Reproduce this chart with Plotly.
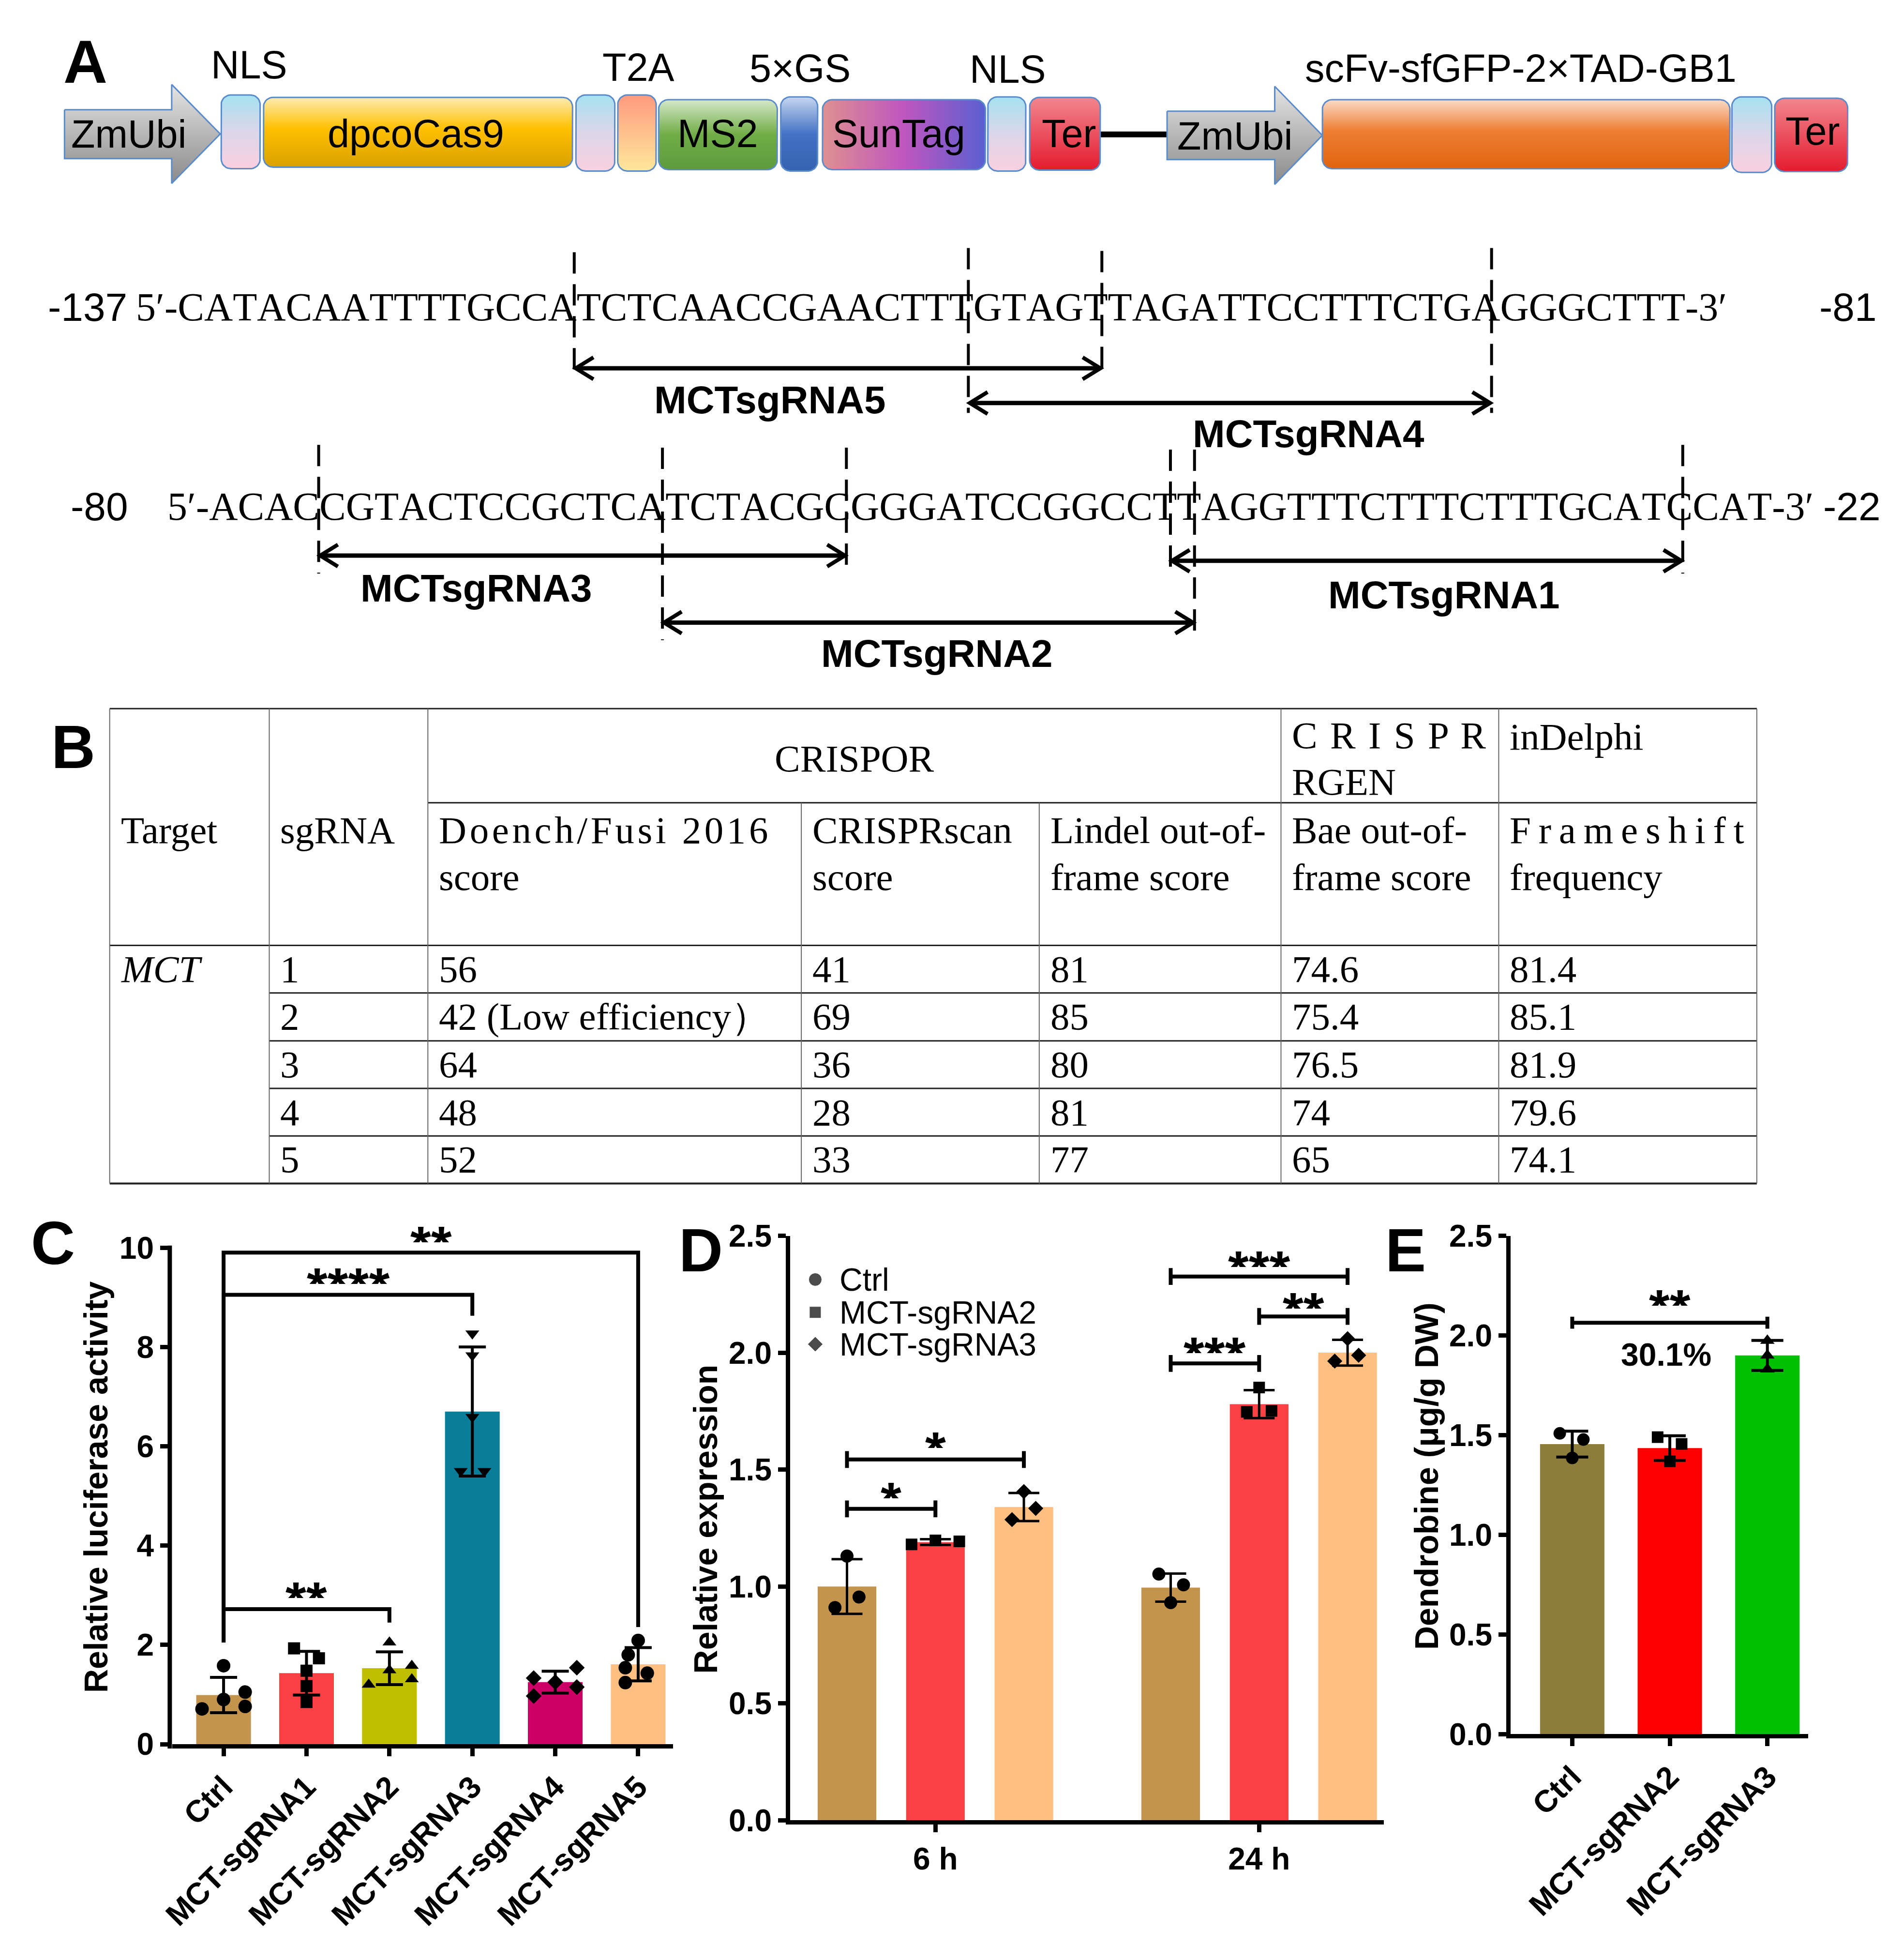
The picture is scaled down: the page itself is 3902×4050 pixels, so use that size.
import plotly.graph_objects as go
import numpy as np

W, H = 3902, 4050
SANS = "Liberation Sans"
SERIF = "Liberation Serif"

# ------------------------------------------------------------------ data
# Panel A : construct + promoter sequences
CONSTRUCT_TOP = ["NLS", "T2A", "5×GS", "NLS", "scFv-sfGFP-2×TAD-GB1"]
SEQ1 = "CATACAATTTTGCCATCTCAACCGAACTTTGTAGTTAGATTCCTTTCTGAGGGCTTT"
SEQ2 = "ACACCGTACTCCGCTCATCTACGCGGGATCCGGCCTTAGGTTTCTTTCTTTGCATCCAT"
SEQ_LEFT = ["-137", "-80"]
SEQ_RIGHT = ["-81", "-22"]
SGRNA_NAMES = ["MCTsgRNA5", "MCTsgRNA4", "MCTsgRNA3", "MCTsgRNA1", "MCTsgRNA2"]
SGRNA_LINE = [1, 1, 2, 2, 2]
SGRNA_CUT0 = [15, 30, 4, 36, 17]
SGRNA_CUT1 = [35, 50, 24, 56, 37]

# Panel B : table
TAB_SGRNA = ["1", "2", "3", "4", "5"]
TAB_DOENCH = ["56", "42 (Low efficiency）", "64", "48", "52"]
TAB_CRISPRSCAN = ["41", "69", "36", "28", "33"]
TAB_LINDEL = ["81", "85", "80", "81", "77"]
TAB_BAE = ["74.6", "75.4", "76.5", "74", "65"]
TAB_INDELPHI = ["81.4", "85.1", "81.9", "79.6", "74.1"]

# Panel C : luciferase
C_GROUPS = ["Ctrl", "MCT-sgRNA1", "MCT-sgRNA2", "MCT-sgRNA3", "MCT-sgRNA4", "MCT-sgRNA5"]
C_MEAN = [0.99, 1.43, 1.53, 6.70, 1.25, 1.61]
C_SD = [0.355, 0.44, 0.33, 1.30, 0.22, 0.335]
C_POINTS = [[1.58, 0.71, 0.90, 1.05, 0.76],
            [1.93, 1.73, 1.48, 1.17, 0.85],
            [2.05, 1.20, 1.49, 1.58, 1.31],
            [8.27, 7.83, 6.59, 5.50, 5.50],
            [1.33, 0.97, 1.25, 1.54, 1.15],
            [2.09, 1.80, 1.54, 1.43, 1.24]]
C_JITTER = [[0, -0.26, 0, 0.26, 0.26],
            [-0.15, 0.15, 0, 0, 0],
            [0, -0.25, 0, 0.27, 0.27],
            [0, 0, 0, -0.14, 0.145],
            [-0.26, -0.26, 0, 0.26, 0.26],
            [0, -0.12, -0.155, 0.11, -0.155]]
C_COLORS = ["#C4944C", "#F94144", "#BFBF00", "#0A7E98", "#CC0066", "#FFBF80"]
C_SYMBOLS = ["circle", "square", "triangle-up", "triangle-down", "diamond", "circle"]
C_SIG_FROM = [0, 0, 0]
C_SIG_TO = [5, 3, 2]
C_SIG_TOP = [9.9, 9.05, 2.72]
C_SIG_RIGHT_END = [2.36, 8.63, 2.45]
C_SIG_LEFT_END = 2.05
C_SIG_TEXT = ["**", "****", "**"]
C_SIG_TEXT_Y = [10.31, 9.47, 3.14]

# Panel D : relative expression
D_TIMES = ["6 h", "24 h"]
D_SERIES = ["Ctrl", "MCT-sgRNA2", "MCT-sgRNA3"]
D_MEAN = [[1.00, 1.19, 1.34], [0.995, 1.78, 2.00]]
D_SD = [[0.117, 0.012, 0.06], [0.06, 0.06, 0.055]]
D_POINTS = [[[1.13, 0.91, 0.955], [1.18, 1.197, 1.193], [1.406, 1.286, 1.334]],
            [[1.053, 1.007, 0.931], [1.851, 1.747, 1.751], [2.06, 1.964, 1.989]]]
D_JITTER = [[[0, -0.136, 0.136], [-0.27, 0, 0.27], [0, -0.134, 0.134]],
            [[-0.134, 0.145, 0], [0, -0.14, 0.14], [0, -0.145, 0.125]]]
D_COLORS = ["#C4944C", "#F94144", "#FFBF80"]
D_SYMBOLS = ["circle", "square", "diamond"]
D_SIG = [  # (time, series_a, series_b, bar_y, text, text_y)
    (0, 0, 1, 1.332, "*", 1.42),
    (0, 0, 2, 1.543, "*", 1.634),
    (1, 0, 1, 1.954, "***", 2.04),
    (1, 1, 2, 2.155, "**", 2.23),
    (1, 0, 2, 2.326, "***", 2.41),
]

# Panel E : dendrobine
E_GROUPS = ["Ctrl", "MCT-sgRNA2", "MCT-sgRNA3"]
E_MEAN = [1.455, 1.435, 1.90]
E_SD = [0.065, 0.062, 0.075]
E_POINTS = [[1.509, 1.478, 1.386], [1.49, 1.456, 1.369], [1.974, 1.90, 1.83]]
E_JITTER = [[-0.128, 0.114, 0], [-0.125, 0.121, 0], [0, 0, 0]]
E_COLORS = ["#8C7E3A", "#FF0000", "#00C000"]
E_SYMBOLS = ["circle", "square", "triangle-up"]
E_SIG_Y, E_SIG_TEXT, E_SIG_TEXT_Y = 2.064, "**", 2.20
E_PCT_TEXT, E_PCT_X, E_PCT_Y = "30.1%", 0.963, 1.905

# ------------------------------------------------------------------ helpers
fig = go.Figure()
shapes, annots = [], []
NOKERN = '<span style="font-kerning:none">{}</span>'


def px_line(x0, y0, x1, y1, w, color="black", dash=None, layer="above"):
    d = dict(type="line", xref="x4", yref="y4", x0=x0, y0=y0, x1=x1, y1=y1,
             line=dict(color=color, width=w), layer=layer)
    if dash:
        d["line"]["dash"] = dash
    shapes.append(d)


def px_path(p, w, color="black"):
    shapes.append(dict(type="path", xref="x4", yref="y4", path=p,
                       line=dict(color=color, width=w)))


def px_text(x, y, s, size, family=SANS, weight="normal", xanchor="center",
            yanchor="middle", angle=0, style="normal", pad=1):
    annots.append(dict(xref="x4", yref="y4", x=x, y=y, text=s, showarrow=False,
                       font=dict(family=family, size=size, color="black",
                                 weight=weight, style=style),
                       xanchor=xanchor, yanchor=yanchor, textangle=angle,
                       borderpad=pad, borderwidth=0))


def rounded(x0, x1, y0, y1, r, n=10):
    xs, ys = [], []
    for cx, cy, a0, a1 in [(x1 - r, y0 + r, -90, 0), (x1 - r, y1 - r, 0, 90),
                           (x0 + r, y1 - r, 90, 180), (x0 + r, y0 + r, 180, 270)]:
        t = np.radians(np.linspace(a0, a1, n))
        xs += list(cx + r * np.cos(t))
        ys += list(cy + r * np.sin(t))
    xs.append(xs[0]); ys.append(ys[0])
    return xs, ys


def grad_poly(xs, ys, cs, gtype="vertical"):
    if gtype == "vertical":  # colorscale is given top -> bottom; axis is reversed
        cs = [[1 - s, c] for s, c in reversed(cs)]
    fig.add_trace(go.Scatter(x=xs, y=ys, mode="lines", fill="toself",
                             line=dict(color="#5A8BCB", width=3),
                             fillgradient=dict(type=gtype, colorscale=cs),
                             hoverinfo="skip", xaxis="x4", yaxis="y4"))


# ------------------------------------------------------------------ Panel A: construct
NLS_CS = [[0, "#A6E1F0"], [0.5, "#DCD6EA"], [1, "#FAD0DF"]]
TER_CS = [[0, "#F2868E"], [1, "#E41B2F"]]
GREY_CS = [[0, "#E4E4E4"], [1, "#8A8A8A"]]

px_line(2255, 238, 2394, 238, 12, layer="below")

for (xa, xb, xt, top, bot, tip_y, btop, bbot) in [(100, 323, 424, 133, 341, 237, 186, 289),
                                                   (2394, 2618, 2717, 137, 343, 240, 189, 291)]:
    xs = [xa, xb, xb, xt, xb, xb, xa, xa]
    ys = [btop, btop, top, tip_y, bot, bbot, bbot, btop]
    grad_poly(xs, ys, GREY_CS)

BOXES = [  # x0, x1, y0, y1, colorscale (top -> bottom / left -> right), gradient type
    (426, 507, 155, 310, NLS_CS, "vertical"),
    (514, 1157, 160, 307, [[0, "#FFEBB0"], [0.45, "#FFC000"], [1, "#D9A100"]], "vertical"),
    (1164, 1245, 155, 315, NLS_CS, "vertical"),
    (1251, 1331, 155, 315, [[0, "#FF9A7E"], [1, "#FFE79C"]], "vertical"),
    (1336, 1583, 165, 312, [[0, "#D5E8C8"], [0.5, "#70AD47"], [1, "#5E9A3C"]], "vertical"),
    (1590, 1667, 159, 315, [[0, "#C6D6F0"], [0.5, "#4472C4"], [1, "#3463B0"]], "vertical"),
    (1677, 2016, 165, 312, [[0, "#DE9090"], [0.5, "#BF56BF"], [1, "#5A5FD0"]], "horizontal"),
    (2021, 2100, 159, 315, NLS_CS, "vertical"),
    (2108, 2255, 160, 313, TER_CS, "vertical"),
    (2717, 3565, 165, 310, [[0, "#FADBC6"], [0.45, "#EE7E33"], [1, "#E0640F"]], "vertical"),
    (3569, 3652, 159, 318, NLS_CS, "vertical"),
    (3658, 3810, 162, 316, TER_CS, "vertical"),
]
for x0, x1, y0, y1, cs, gt in BOXES:
    r = min(20, (x1 - x0) / 2.5)
    xs, ys = rounded(x0, x1, y0, y1, r)
    grad_poly(xs, ys, cs, gt)

FS_A = 81
px_text(234, 237, "ZmUbi", FS_A)
px_text(831, 236, "dpcoCas9", FS_A)
px_text(1459, 236, "MS2", FS_A)
px_text(1836, 236, "SunTag", FS_A)
px_text(2190, 236, "Ter", FS_A)
px_text(2535, 241, "ZmUbi", FS_A)
px_text(3737, 231, "Ter", FS_A)
for s, x, y in zip(CONSTRUCT_TOP, [484, 1294, 1630, 2063, 3130], [92, 97, 99, 101, 99]):
    px_text(x, y, s, FS_A)

# panel letters
for s, x, y in [("A", 143, 85), ("B", 118, 1527), ("C", 76, 2570), ("D", 1424, 2585), ("E", 2890, 2585)]:
    px_text(x, y, s, 126, weight="bold")

# ------------------------------------------------------------------ Panel A: sequences
TW = {"A": 0.722, "C": 0.667, "G": 0.722, "T": 0.611}
FS_SEQ = 82
PREFIX_W = 87          # rendered width of the "5′-" prefix
SEQS = {1: (SEQ1, 336, 601), 2: (SEQ2, 401, 1021)}


def cut_x(line, k):
    seq, x0, _ = SEQS[line]
    return x0 + FS_SEQ * sum(TW[c] for c in seq[:k])


for line, (seq, x0, y) in SEQS.items():
    px_text(x0 - PREFIX_W, y, NOKERN.format("5′-" + seq + "-3′"), FS_SEQ, family=SERIF,
            xanchor="left", pad=0)
px_text(64, 601, SEQ_LEFT[0], FS_SEQ, xanchor="left")
px_text(112, 1021, SEQ_LEFT[1], FS_SEQ, xanchor="left")
px_text(3872, 601, SEQ_RIGHT[0], FS_SEQ, xanchor="right")
px_text(3880, 1021, SEQ_RIGHT[1], FS_SEQ, xanchor="right")

# dashed cut lines: (line, cut index, y top, y bottom)
DASHES = [(1, 15, 486, 751), (1, 30, 477, 824), (1, 35, 483, 748), (1, 50, 477, 824),
          (2, 4, 891, 1162), (2, 17, 897, 1302), (2, 24, 897, 1149), (2, 36, 901, 1156),
          (2, 37, 901, 1296), (2, 56, 891, 1162)]
for line, k, ya, yb in DASHES:
    x = cut_x(line, k)
    px_line(x, ya, x, yb, 6, dash="44px,22px")

ARROW_Y = [730, 803, 1124, 1135, 1265]
LABEL_XY = [(1568, 797), (2688, 868), (957, 1193), (2970, 1207), (1915, 1330)]
for name, line, k0, k1, ay, (lx, ly) in zip(SGRNA_NAMES, SGRNA_LINE, SGRNA_CUT0, SGRNA_CUT1,
                                           ARROW_Y, LABEL_XY):
    xa, xb = cut_x(line, k0), cut_x(line, k1)
    px_line(xa + 4, ay, xb - 4, ay, 9)
    px_path(f"M {xa + 40},{ay - 23} L {xa + 3},{ay} L {xa + 40},{ay + 23}", 8)
    px_path(f"M {xb - 40},{ay - 23} L {xb - 3},{ay} L {xb - 40},{ay + 23}", 8)
    px_text(lx, ly, name, 80, weight="bold")

# ------------------------------------------------------------------ Panel B: table
COLS = [194, 526, 856, 1633, 2128, 2631, 3084, 3621]
ROWS = [1446, 1644, 1944, 2044, 2145, 2245, 2345, 2445]
px_line(COLS[0], ROWS[0], COLS[-1], ROWS[0], 3, "#222")
px_line(COLS[2], ROWS[1], COLS[-1], ROWS[1], 3, "#222")
px_line(COLS[0], ROWS[2], COLS[-1], ROWS[2], 3, "#222")
for r in ROWS[3:7]:
    px_line(COLS[1], r, COLS[-1], r, 3, "#222")
px_line(COLS[0], ROWS[7], COLS[-1], ROWS[7], 4, "#222")
for i, c in enumerate(COLS):
    ytop = ROWS[1] if i in (3, 4) else ROWS[0]
    px_line(c, ytop, c, ROWS[7], 2, "#666")

FT = 79
HAIR, THIN = "\u200a", "\u2009"
PAD = 22
px_text(COLS[0] + PAD, 1702, "Target", FT, SERIF, xanchor="left")
px_text(COLS[1] + PAD, 1702, "sgRNA", FT, SERIF, xanchor="left")
px_text((COLS[2] + COLS[5]) / 2, 1551, "CRISPOR", FT, SERIF)
px_text(COLS[5] + PAD, 1502, (" " + HAIR).join("CRISPR"), FT, SERIF, xanchor="left")
px_text(COLS[5] + PAD, 1600, "RGEN", FT, SERIF, xanchor="left")
px_text(COLS[6] + PAD, 1505, "inDelphi", FT, SERIF, xanchor="left")
SUBHEAD = [(HAIR.join("Doench/Fusi 2016"), "score"), ("CRISPRscan", "score"),
           ("Lindel out-of-", "frame score"), ("Bae out-of-", "frame score"),
           (THIN.join("Frameshift"), "frequency")]
for (l1, l2), c in zip(SUBHEAD, COLS[2:7]):
    px_text(c + PAD, 1702, l1, FT, SERIF, xanchor="left")
    px_text(c + PAD, 1800, l2, FT, SERIF, xanchor="left")
ROW_Y = [1994, 2094, 2195, 2295, 2394]
px_text(COLS[0] + PAD, ROW_Y[0], "MCT", FT, SERIF, xanchor="left", style="italic")
for j, col in enumerate([TAB_SGRNA, TAB_DOENCH, TAB_CRISPRSCAN, TAB_LINDEL, TAB_BAE, TAB_INDELPHI]):
    for v, y in zip(col, ROW_Y):
        px_text(COLS[j + 1] + PAD, y, v, FT, SERIF, xanchor="left")

# ------------------------------------------------------------------ common chart styling
TICKFONT = dict(family=SANS, size=64, color="black", weight="bold")
STAR = 110


def star(xref, yref, x, y, s):
    # compact box around the asterisk glyphs (they sit high in the em box)
    annots.append(dict(xref=xref, yref=yref, x=x, y=y, text=s, showarrow=False,
                       font=dict(family=SANS, size=STAR, color="black", weight="bold"),
                       xanchor="center", yanchor="top", valign="top",
                       height=round(0.52 * STAR), borderpad=0, borderwidth=0,
                       yshift=0.332 * STAR))


def ax_x(dom_px, rng, tickvals, ticktext, angle=0):
    return dict(domain=[dom_px[0] / W, dom_px[1] / W], range=rng, showline=True, linewidth=9,
                linecolor="black", ticks="outside", ticklen=16, tickwidth=9, tickcolor="black",
                tickvals=tickvals, ticktext=ticktext, tickangle=angle, tickfont=TICKFONT,
                showgrid=False, zeroline=False, fixedrange=True)


def ax_y(dom_px, rng, tickvals, ticktext, showline=True, ticklen=16):
    return dict(domain=[1 - dom_px[1] / H, 1 - dom_px[0] / H], range=rng, showline=showline,
                linewidth=9 if showline else 1, linecolor="black", ticks="outside",
                ticklen=ticklen, tickwidth=9, tickcolor="black", tickvals=tickvals,
                ticktext=ticktext, tickfont=TICKFONT, showgrid=False, zeroline=False,
                fixedrange=True)


# ------------------------------------------------------------------ Panel C
nC = len(C_GROUPS)
fig.add_trace(go.Bar(x=list(range(nC)), y=C_MEAN, width=0.66, marker=dict(color=C_COLORS, line=dict(width=0)),
                     error_y=dict(type="data", array=C_SD, visible=True, color="black", thickness=6, width=28),
                     xaxis="x", yaxis="y", hoverinfo="skip"))
for i in range(nC):
    fig.add_trace(go.Scatter(x=[i + j for j in C_JITTER[i]], y=C_POINTS[i], mode="markers",
                             marker=dict(symbol=C_SYMBOLS[i], size=28 if C_SYMBOLS[i] == "circle" else 25,
                                         color="black", line=dict(width=0)),
                             xaxis="x", yaxis="y", hoverinfo="skip", cliponaxis=False))
for a, b, top, rend, s, ty in zip(C_SIG_FROM, C_SIG_TO, C_SIG_TOP, C_SIG_RIGHT_END, C_SIG_TEXT, C_SIG_TEXT_Y):
    shapes.append(dict(type="path", xref="x", yref="y",
                       path=f"M {a},{C_SIG_LEFT_END} L {a},{top} L {b},{top} L {b},{rend}",
                       line=dict(color="black", width=8)))
    star("x", "y", (a + b) / 2, ty, s)
# C y axis line (drawn so that it stops at the top tick)
px_line(319, 2575.5, 319, 3633.5, 9)
px_text(165, 3083, "Relative luciferase activity", 68, weight="bold", angle=-90)

# ------------------------------------------------------------------ Panel D
GROUP_STEP = 3.66
fig.add_trace(go.Bar(
    x=[t * GROUP_STEP + s for t in range(2) for s in range(3)],
    y=[D_MEAN[t][s] for t in range(2) for s in range(3)], width=0.663,
    marker=dict(color=D_COLORS * 2, line=dict(width=0)),
    error_y=dict(type="data", array=[D_SD[t][s] for t in range(2) for s in range(3)], visible=True,
                 color="black", thickness=5, width=32),
    xaxis="x2", yaxis="y2", hoverinfo="skip"))
for t in range(2):
    for s in range(3):
        fig.add_trace(go.Scatter(x=[t * GROUP_STEP + s + j for j in D_JITTER[t][s]], y=D_POINTS[t][s],
                                 mode="markers",
                                 marker=dict(symbol=D_SYMBOLS[s], size=27 if s == 0 else 24, color="black",
                                             line=dict(width=0)),
                                 xaxis="x2", yaxis="y2", hoverinfo="skip", cliponaxis=False))
for t, sa, sb, by, s, ty in D_SIG:
    xa, xb = t * GROUP_STEP + sa, t * GROUP_STEP + sb
    shapes.append(dict(type="line", xref="x2", yref="y2", x0=xa, x1=xb, y0=by, y1=by,
                       line=dict(color="black", width=8)))
    for xx in (xa, xb):
        shapes.append(dict(type="line", xref="x2", yref="y2", x0=xx, x1=xx, y0=by - 0.036, y1=by + 0.036,
                           line=dict(color="black", width=8)))
    star("x2", "y2", (xa + xb) / 2, ty, s)
px_text(1434, 3151, "Relative expression", 68, weight="bold", angle=-90)
# legend for D
LEG_Y = [2647, 2716, 2783]
fig.add_trace(go.Scatter(x=[1662] * 3, y=LEG_Y, mode="markers",
                         marker=dict(symbol=D_SYMBOLS, size=[27, 24, 24], color="black"),
                         xaxis="x4", yaxis="y4", hoverinfo="skip"))
for name, y in zip(D_SERIES, LEG_Y):
    px_text(1711, y, name, 66, xanchor="left")

# ------------------------------------------------------------------ Panel E
nE = len(E_GROUPS)
fig.add_trace(go.Bar(x=list(range(nE)), y=E_MEAN, width=0.66, marker=dict(color=E_COLORS, line=dict(width=0)),
                     error_y=dict(type="data", array=E_SD, visible=True, color="black", thickness=6, width=33),
                     xaxis="x3", yaxis="y3", hoverinfo="skip"))
for i in range(nE):
    fig.add_trace(go.Scatter(x=[i + j for j in E_JITTER[i]], y=E_POINTS[i], mode="markers",
                             marker=dict(symbol=E_SYMBOLS[i], size=26 if i != 1 else 24, color="black",
                                         line=dict(width=0)),
                             xaxis="x3", yaxis="y3", hoverinfo="skip", cliponaxis=False))
shapes.append(dict(type="line", xref="x3", yref="y3", x0=0, x1=2, y0=E_SIG_Y, y1=E_SIG_Y,
                   line=dict(color="black", width=8)))
for xx in (0, 2):
    shapes.append(dict(type="line", xref="x3", yref="y3", x0=xx, x1=xx, y0=E_SIG_Y - 0.03, y1=E_SIG_Y + 0.03,
                       line=dict(color="black", width=8)))
star("x3", "y3", 1, E_SIG_TEXT_Y, E_SIG_TEXT)
annots.append(dict(xref="x3", yref="y3", x=E_PCT_X, y=E_PCT_Y, text=E_PCT_TEXT, showarrow=False,
                   font=dict(family=SANS, size=66, color="black", weight="bold"),
                   xanchor="center", yanchor="middle", borderwidth=0, borderpad=0))
px_text(2933, 3060, "Dendrobine (μg/g DW)", 68, weight="bold", angle=-90)

# ------------------------------------------------------------------ layout
fig.update_layout(
    width=W, height=H, margin=dict(l=0, r=0, t=0, b=0),
    paper_bgcolor="white", plot_bgcolor="rgba(0,0,0,0)", showlegend=False,
    xaxis=ax_x((324, 1366), [-0.62, 5.42], list(range(nC)), C_GROUPS, angle=-45),
    yaxis=ax_y((2517.3, 3624.5), [0, 10.6], [0, 2, 4, 6, 8, 10], ["0", "2", "4", "6", "8", "10"],
               showline=False, ticklen=24),
    xaxis2=ax_x((1609.5, 2845), [-0.644, 6.07], [1, GROUP_STEP + 1], D_TIMES),
    yaxis2=ax_y((2555, 3784.5), [0, 2.5], [0, 0.5, 1, 1.5, 2, 2.5], ["0.0", "0.5", "1.0", "1.5", "2.0", "2.5"]),
    xaxis3=ax_x((3108.5, 3728), [-0.633, 2.419], list(range(nE)), E_GROUPS, angle=-45),
    yaxis3=ax_y((2555, 3603.5), [0, 2.5], [0, 0.5, 1, 1.5, 2, 2.5], ["0.0", "0.5", "1.0", "1.5", "2.0", "2.5"]),
    xaxis4=dict(domain=[0, 1], range=[0, W], visible=False, anchor="y4", fixedrange=True),
    yaxis4=dict(domain=[0, 1], range=[H, 0], visible=False, anchor="x4", fixedrange=True),
    shapes=shapes, annotations=annots,
)
fig.update_layout(xaxis=dict(anchor="y"), yaxis=dict(anchor="x"),
                  xaxis2=dict(anchor="y2"), yaxis2=dict(anchor="x2"),
                  xaxis3=dict(anchor="y3"), yaxis3=dict(anchor="x3"))

fig.write_html("out.html")
